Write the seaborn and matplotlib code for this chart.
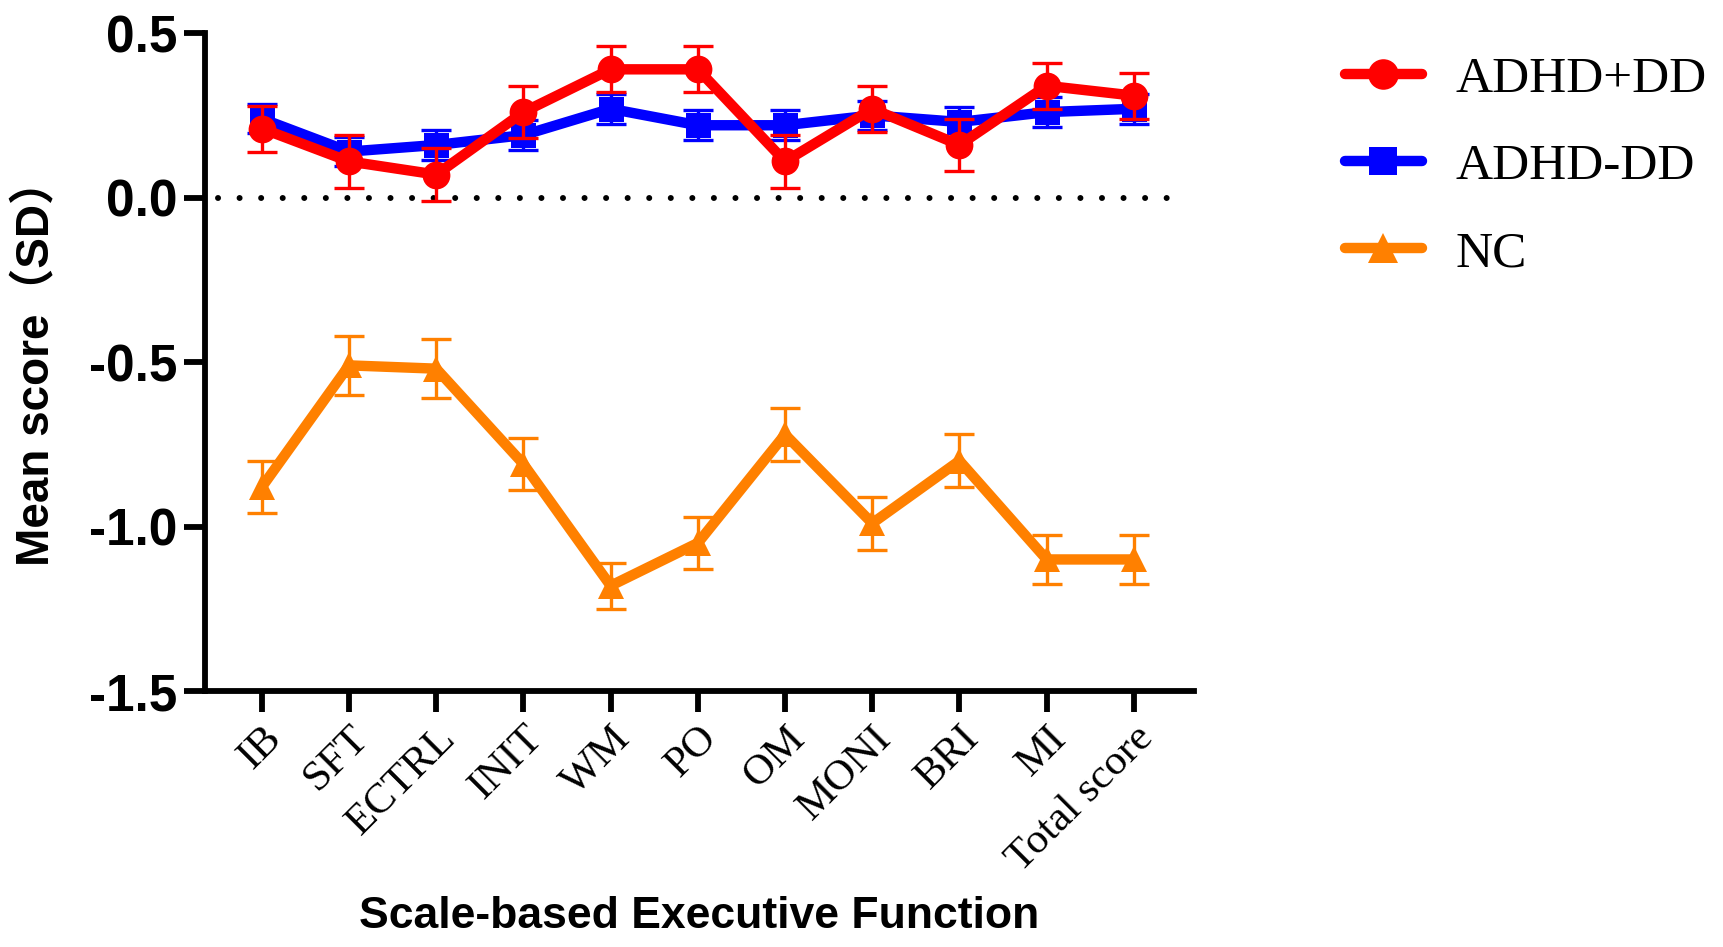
import numpy as np
import pandas as pd
import matplotlib
matplotlib.use("Agg")
import matplotlib.pyplot as plt
import seaborn as sns

# ── DATA ───────────────────────────────────────────────
domains = ['IB', 'SFT', 'ECTRL', 'INIT', 'WM', 'PO', 'OM', 'MONI', 'BRI', 'MI', 'Total score']

adhd_dd_mean = [0.21, 0.11, 0.07, 0.26, 0.39, 0.39, 0.11, 0.27, 0.16, 0.34, 0.31]
adhd_dd_err = [0.07, 0.08, 0.08, 0.08, 0.07, 0.07, 0.08, 0.07, 0.08, 0.07, 0.07]

adhd_nodd_mean = [0.24, 0.14, 0.16, 0.19, 0.27, 0.22, 0.22, 0.25, 0.23, 0.26, 0.27]
adhd_nodd_err = [0.045, 0.045, 0.045, 0.045, 0.045, 0.045, 0.045, 0.045, 0.045, 0.045, 0.045]

nc_mean = [-0.88, -0.51, -0.52, -0.81, -1.18, -1.05, -0.72, -0.99, -0.80, -1.10, -1.10]
nc_err = [0.08, 0.09, 0.09, 0.08, 0.07, 0.08, 0.08, 0.08, 0.08, 0.075, 0.075]

groups = ['ADHD+DD', 'ADHD-DD', 'NC']
colors = {'ADHD+DD': '#FF0000', 'ADHD-DD': '#0000FF', 'NC': '#FF8000'}
markers = {'ADHD+DD': 'o', 'ADHD-DD': 's', 'NC': '^'}
msizes = {'ADHD+DD': 20, 'ADHD-DD': 18, 'NC': 19}

x = np.arange(len(domains))
df = pd.DataFrame({
    'x': np.tile(x, 3),
    'mean': adhd_dd_mean + adhd_nodd_mean + nc_mean,
    'err': adhd_dd_err + adhd_nodd_err + nc_err,
    'group': np.repeat(groups, len(domains)),
})

# ── PLOT ───────────────────────────────────────────────
sns.set_style('ticks')
plt.rcParams.update({'text.color': 'black', 'axes.labelcolor': 'black',
                     'axes.edgecolor': 'black', 'xtick.color': 'black',
                     'ytick.color': 'black'})
serif = ['Liberation Serif', 'DejaVu Serif']
sans = ['Liberation Sans', 'Noto Sans CJK SC', 'DejaVu Sans']

fig = plt.figure(figsize=(17.24, 9.47), dpi=100)
ax = fig.add_axes([0.119, 0.2703, 0.5736, 0.6947])

ax.plot([-0.5, 10.5], [0, 0], color='black', lw=4.3,
        linestyle=(0, (0.01, 3.6)), dash_capstyle='round', zorder=1)

# draw NC first, then ADHD-DD, then ADHD+DD on top
for i, g in enumerate(['NC', 'ADHD-DD', 'ADHD+DD']):
    sub = df[df['group'] == g]
    ax.errorbar(sub['x'], sub['mean'], yerr=sub['err'], fmt='none',
                ecolor=colors[g], elinewidth=2.4, capsize=11, capthick=2.4,
                zorder=2 + 2 * i)
    sns.lineplot(data=sub, x='x', y='mean', ax=ax, color=colors[g],
                 marker=markers[g], markersize=msizes[g], markeredgewidth=0,
                 linewidth=7.5, label=g, zorder=3 + 2 * i)

ax.set_xlim(-0.65, 10.69)
ax.set_ylim(-1.5, 0.5)
ax.set_yticks([0.5, 0.0, -0.5, -1.0, -1.5])
ax.set_yticklabels(['0.5', '0.0', '-0.5', '-1.0', '-1.5'],
                   family=sans, fontweight='bold', fontsize=37)
ax.set_xticks(x)
ax.set_xticklabels(domains, family=serif, fontsize=31, rotation=45,
                   ha='right', rotation_mode='anchor')

ax.set_xlabel('Scale-based Executive Function', family=sans,
              fontweight='bold', fontsize=32, labelpad=12)
ax.set_ylabel('Mean score（SD）', family=sans, fontweight='bold',
              fontsize=33)
ax.yaxis.set_label_coords(-0.148, 0.5)

for s in ['top', 'right']:
    ax.spines[s].set_visible(False)
for s in ['left', 'bottom']:
    ax.spines[s].set_linewidth(4.2)
ax.tick_params(axis='both', width=4.2, length=15, color='black', pad=5)

handles, labels = ax.get_legend_handles_labels()
order = [labels.index(g) for g in groups]
ax.legend([handles[k] for k in order], [labels[k] for k in order],
          loc='upper left', bbox_to_anchor=(0.765, 0.968),
          bbox_transform=fig.transFigure, frameon=False, borderpad=0,
          prop={'family': serif, 'size': 37}, handlelength=1.5,
          handletextpad=0.65, labelspacing=0.78, markerscale=1.1)

fig.savefig('out.png', dpi=100)
